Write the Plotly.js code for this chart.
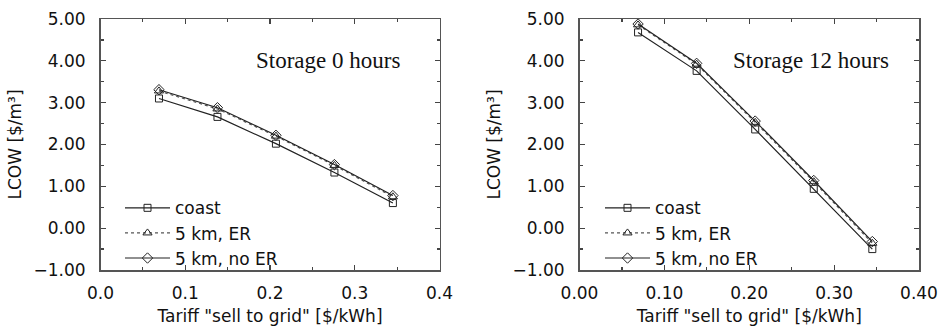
<!DOCTYPE html>
<html><head><meta charset="utf-8">
<script src="https://cdn.plot.ly/plotly-3.0.1.min.js"></script>
<style>body{margin:0;background:#fff}#c{width:939px;height:331px}</style>
</head><body><div id="c"></div>
<script>
const tariff = [0.069, 0.138, 0.207, 0.276, 0.345];
const coast0 = [3.10, 2.66, 2.02, 1.33, 0.60];
const er0    = [3.28, 2.85, 2.20, 1.50, 0.75];
const noer0  = [3.31, 2.88, 2.22, 1.52, 0.78];
const coast12 = [4.68, 3.76, 2.36, 0.94, -0.50];
const er12    = [4.86, 3.92, 2.53, 1.11, -0.36];
const noer12  = [4.88, 3.94, 2.56, 1.14, -0.32];
const names = ['coast', '5 km, ER', '5 km, no ER'];
const panelLabels = ['Storage 0 hours', 'Storage 12 hours'];

const styles = [
  {line:{color:'#222', width:1.2, dash:'solid'}, marker:{symbol:'square-open', size:7, color:'#222', line:{width:1}}},
  {line:{color:'#555', width:1.2, dash:'dot'}, marker:{symbol:'triangle-up-open', size:8, color:'#222', line:{width:1}}},
  {line:{color:'#222', width:1.2, dash:'solid'}, marker:{symbol:'diamond-open', size:8, color:'#222', line:{width:1}}}
];
const sets = [[coast0, er0, noer0], [coast12, er12, noer12]];
const traces = [];
sets.forEach((s, p) => {
  s.forEach((y, i) => {
    traces.push(Object.assign({
      x: tariff, y: y, name: names[i], type: 'scatter', mode: 'lines+markers',
      xaxis: p ? 'x2' : 'x', yaxis: p ? 'y2' : 'y',
      legend: p ? 'legend2' : 'legend'
    }, JSON.parse(JSON.stringify(styles[i]))));
  });
});

const font = {family: 'DejaVu Sans, Arial, sans-serif', size: 17, color: '#111'};
function xax(domain, fmt) {
  return {domain: domain, range: [0, 0.4], tickvals: [0, 0.1, 0.2, 0.3, 0.4], tickformat: fmt,
    ticks: 'inside', ticklen: 5, tickwidth: 1.2, tickcolor: '#444', mirror: 'ticks',
    showline: true, linecolor: '#555', linewidth: 1.5, showgrid: false, zeroline: false,
    minor: {dtick: 0.05, tick0: 0, ticks: 'inside', ticklen: 3, tickcolor: '#444', showgrid: false},
    ticklabelstandoff: 7, tickfont: font, anchor: domain[0] < 0.5 ? 'y' : 'y2',
    title: {text: 'Tariff "sell to grid" [$/kWh]', font: font, standoff: 8}};
}
function yax(anchor) {
  return {domain: [0, 1], range: [-1, 5], dtick: 1, tick0: 0, tickformat: '.2f',
    ticks: 'inside', ticklen: 5, tickwidth: 1.2, tickcolor: '#444', mirror: 'ticks',
    showline: true, linecolor: '#555', linewidth: 1.5, showgrid: false, zeroline: false,
    minor: {dtick: 0.5, ticks: 'inside', ticklen: 3, tickcolor: '#444', showgrid: false},
    ticklabelstandoff: 10, tickfont: font, anchor: anchor,
    title: {text: 'LCOW [$/m³]', font: font, standoff: 7}};
}
const legendBase = {bgcolor: 'rgba(0,0,0,0)', font: font, itemwidth: 45, tracegroupgap: 0,
  xanchor: 'left', yanchor: 'bottom', yref: 'paper', xref: 'paper'};
const layout = {
  width: 939, height: 331, margin: {l: 0, r: 0, t: 19, b: 61},
  paper_bgcolor: '#fff', plot_bgcolor: '#fff', font: font,
  xaxis: xax([100.5/939, 439.5/939], '.1f'),
  yaxis: yax('x'),
  xaxis2: xax([579.5/939, 919/939], '.2f'),
  yaxis2: yax('x2'),
  legend: Object.assign({x: 120/939, y: -0.025}, legendBase),
  legend2: Object.assign({x: 600/939, y: -0.025}, legendBase),
  annotations: [
    {text: panelLabels[0], xref: 'x', yref: 'y', x: 0.269, y: 4.0, showarrow: false,
     font: {family: 'Liberation Serif, Times New Roman, serif', size: 23, color: '#111'}},
    {text: panelLabels[1], xref: 'x2', yref: 'y2', x: 0.273, y: 4.0, showarrow: false,
     font: {family: 'Liberation Serif, Times New Roman, serif', size: 23, color: '#111'}}
  ]
};
Plotly.newPlot('c', traces, layout, {displayModeBar: false, staticPlot: true});
</script></body></html>
